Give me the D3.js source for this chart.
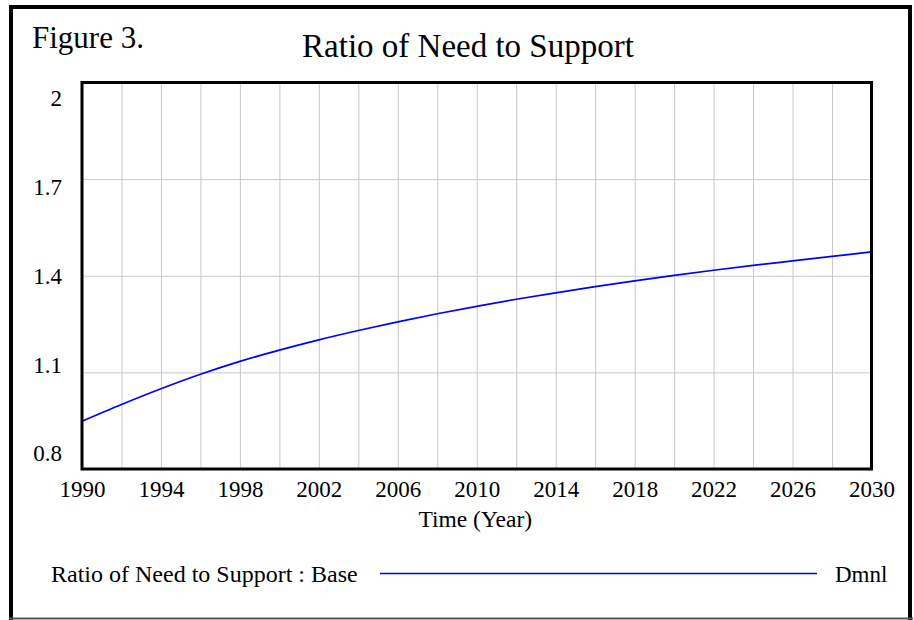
<!DOCTYPE html>
<html lang="en">
<head>
<meta charset="utf-8">
<script type="text/javascript" src="https://cdn.jsdelivr.net/npm/d3@7"></script>
<style>
body {
	margin:0;
	background:white;
}
.grid line {
	stroke:#c8c8c8;
	stroke-width:1;
}
.grid path, .lbl path, .lbl line {
	display:none;
}
path.series {
	fill:none;
	stroke:#0000ff;
	stroke-width:1.7;
}
</style>

<script>

	// values
	var years = [1990,1992,1994,1996,1998,2000,2002,2004,2006,2008,2010,2012,2014,2016,2018,2020,2022,2024,2026,2028,2030];
	var ratio = [0.948,1.000,1.049,1.094,1.134,1.169,1.201,1.230,1.257,1.282,1.305,1.327,1.347,1.366,1.384,1.401,1.417,1.432,1.446,1.460,1.474];
	var xTickLabels = [1990,1994,1998,2002,2006,2010,2014,2018,2022,2026,2030];
	var yTickLabels = [2,1.7,1.4,1.1,0.8];
	var yGrid = [1.1,1.4,1.7];

	var W = 914, H = 620;
	var pLeft = 82, pRight = 871.5, pTop = 82.5, pBottom = 469;
	var FONT = '"Liberation Serif", "Times New Roman", serif';

	function doChart(){
		var svg = d3.select('#chart').attr('width',W).attr('height',H);

		var x = d3.scaleLinear().domain([1990,2030]).range([pLeft,pRight]);
		var y = d3.scaleLinear().domain([0.8,2]).range([pBottom,pTop]);
		// vensim spreads the value labels inside the frame
		var yl = d3.scaleLinear().domain([0.8,2]).range([453,98]);

		// outer frame
		svg.append('rect').attr('x',11).attr('y',7).attr('width',899).attr('height',H)
			.attr('fill','none').attr('stroke','black').attr('stroke-width',4);
		svg.append('line').attr('x1',9).attr('x2',913).attr('y1',618.5).attr('y2',618.5)
			.attr('stroke','#555').attr('stroke-width',2);

		svg.append('text').attr('x',32).attr('y',48).attr('font-size',31).text('Figure 3.');
		svg.append('text').attr('x',468).attr('y',57).attr('font-size',33)
			.attr('text-anchor','middle').text('Ratio of Need to Support');

		// grid
		svg.append('g').attr('class','grid')
			.attr('transform','translate(0,'+pBottom+')')
			.call(d3.axisBottom(x).tickValues(d3.range(1992,2030,2)).tickSize(-(pBottom-pTop)).tickFormat(''));
		svg.append('g').attr('class','grid')
			.attr('transform','translate('+pLeft+',0)')
			.call(d3.axisLeft(y).tickValues(yGrid).tickSize(-(pRight-pLeft)).tickFormat(''));

		// series
		var line = d3.line()
			.x(function(d,i){return x(years[i]);})
			.y(function(d){return y(d);})
			.curve(d3.curveMonotoneX);
		svg.append('path').datum(ratio).attr('class','series').attr('d',line);

		// plot frame
		svg.append('rect').attr('x',pLeft).attr('y',pTop).attr('width',pRight-pLeft).attr('height',pBottom-pTop)
			.attr('fill','none').attr('stroke','black').attr('stroke-width',3);

		// tick labels
		svg.append('g').attr('class','lbl')
			.attr('transform','translate(0,'+(pBottom+12)+')')
			.call(d3.axisBottom(x).tickValues(xTickLabels).tickSize(0).tickPadding(0).tickFormat(d3.format('d')))
			.selectAll('text').attr('font-size',23).attr('dy','0.71em');
		svg.append('g').attr('class','lbl')
			.attr('transform','translate(62,0)')
			.call(d3.axisLeft(yl).tickValues(yTickLabels).tickSize(0).tickPadding(0).tickFormat(d3.format('')))
			.selectAll('text').attr('font-size',23).attr('dy','0.34em');

		svg.append('text').attr('x',(pLeft+pRight)/2 - 1.5).attr('y',527).attr('font-size',23.5)
			.attr('text-anchor','middle').text('Time (Year)');

		// legend
		svg.append('text').attr('x',51).attr('y',582).attr('font-size',24).text('Ratio of Need to Support : Base');
		svg.append('line').attr('x1',380).attr('x2',817).attr('y1',573.5).attr('y2',573.5)
			.attr('stroke','#0000ff').attr('stroke-width',1.7);
		svg.append('text').attr('x',835).attr('y',582).attr('font-size',23).text('Dmnl');

		svg.selectAll('text').style('font-family',FONT).style('fill','black');
	}

</script>
</head>

<body onload="doChart();">
	<svg id="chart"></svg>
</body>
</html>
